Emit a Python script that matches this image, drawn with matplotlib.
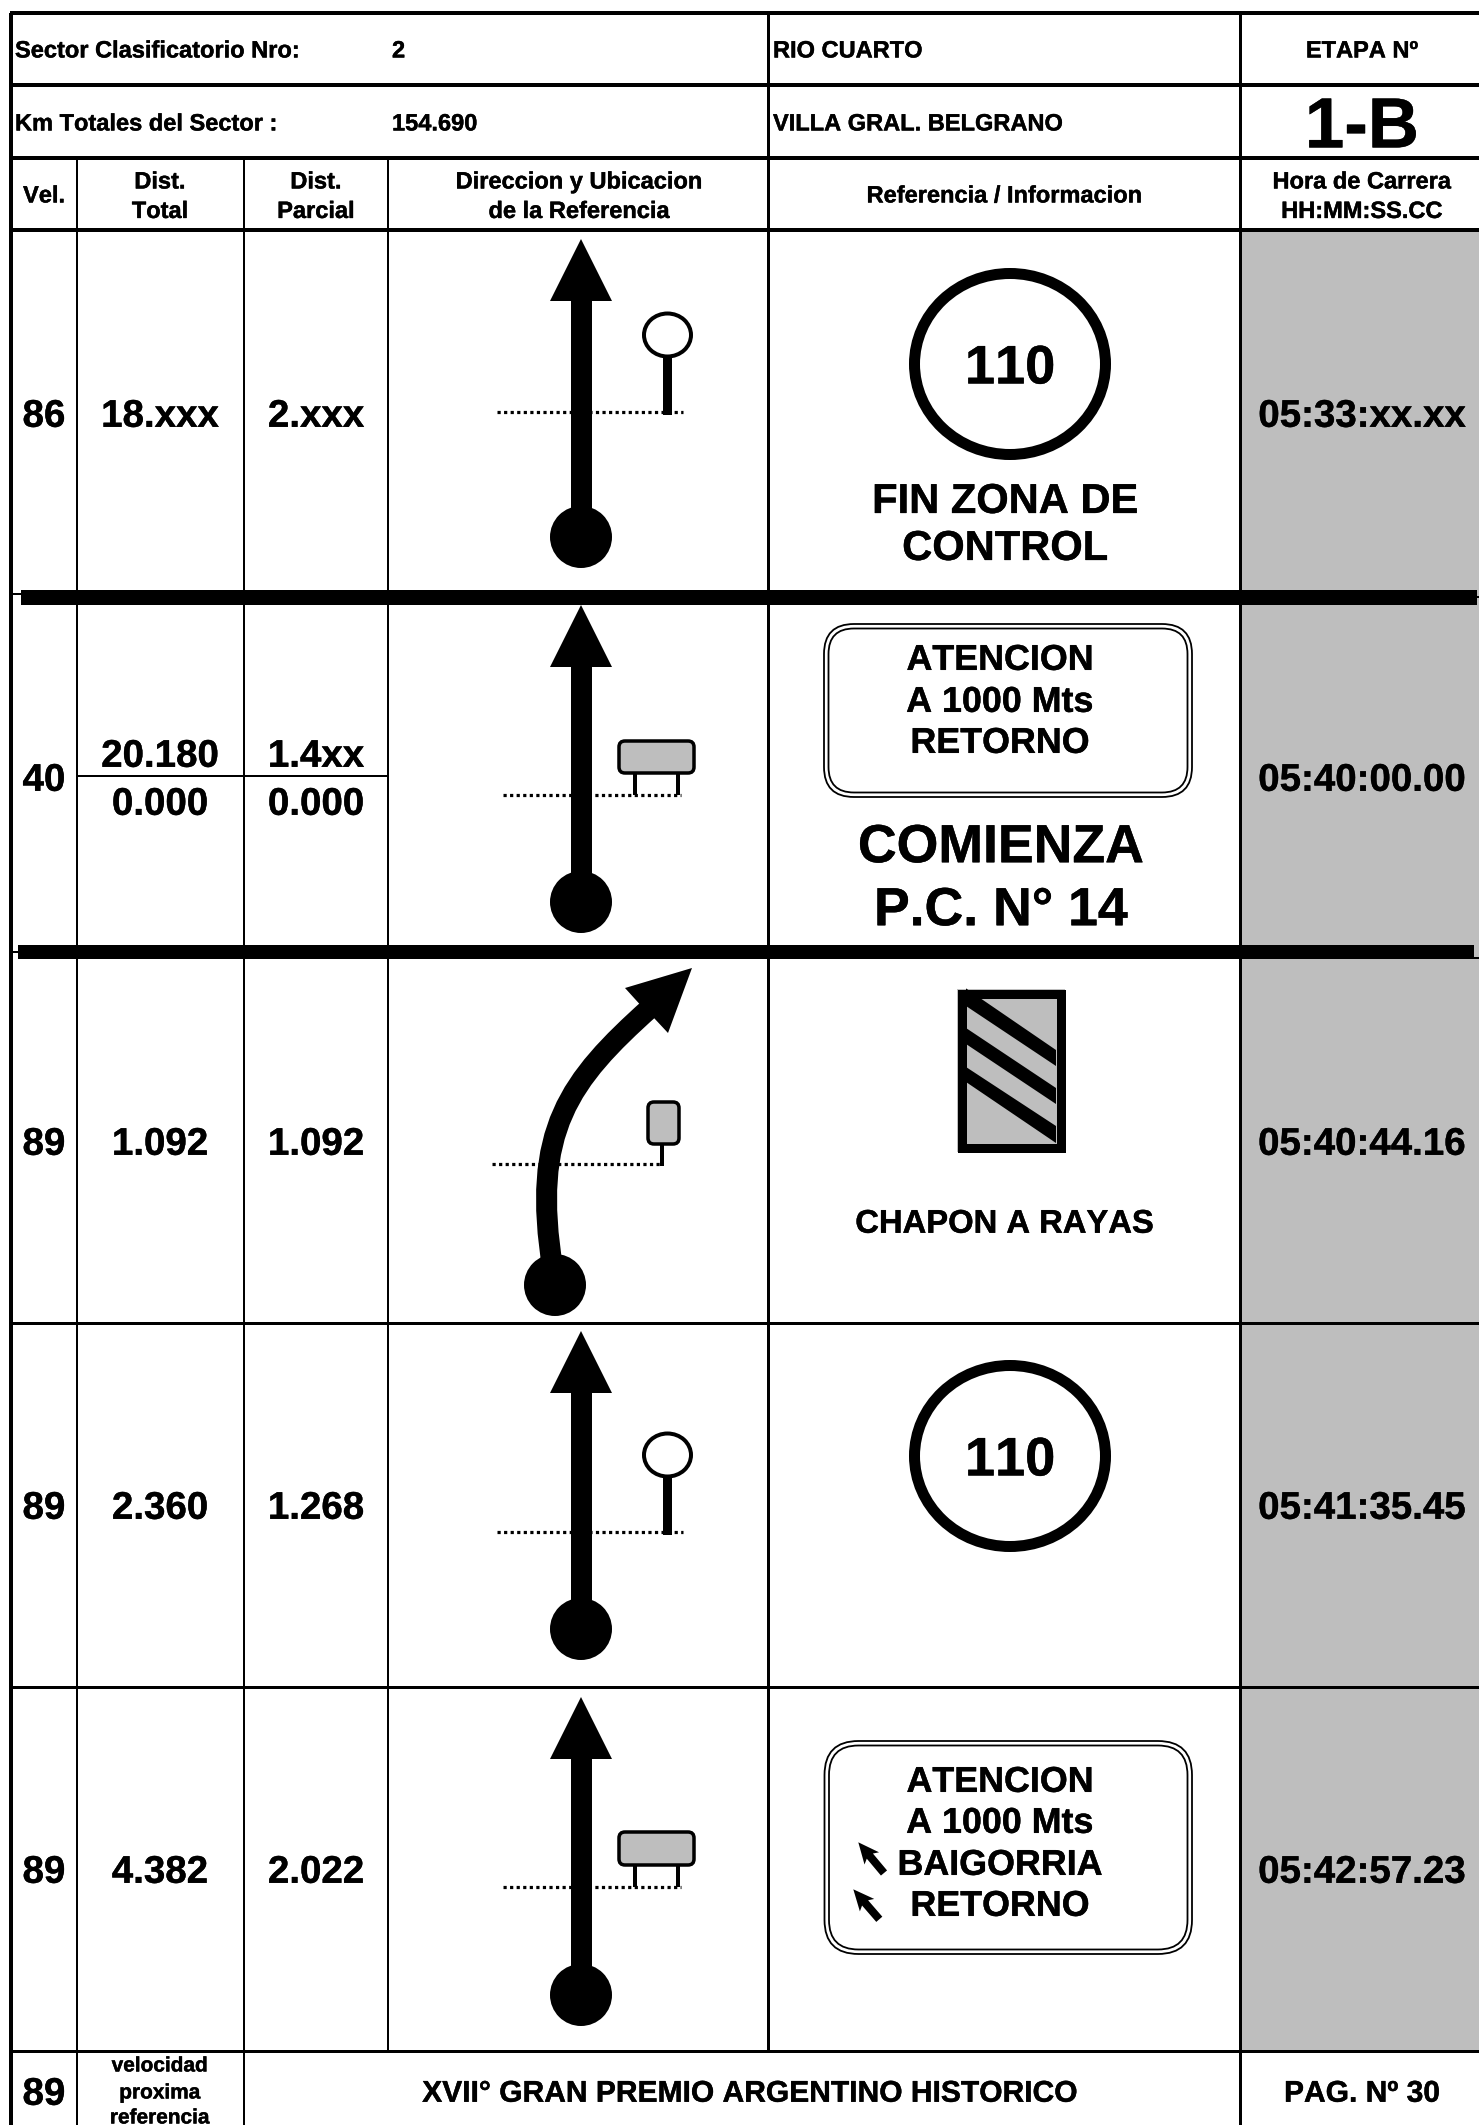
import matplotlib
matplotlib.use("Agg")
import matplotlib.pyplot as plt
import matplotlib.patheffects as pe
from matplotlib.patches import Rectangle, Ellipse, Polygon, FancyBboxPatch, PathPatch
from matplotlib.path import Path
import numpy as np

plt.rcParams['font.family'] = ['Liberation Sans', 'DejaVu Sans']
plt.rcParams['text.kerning_factor'] = 6

# ---- content ----
sector_label = "Sector Clasificatorio Nro:"
sector_value = "2"
km_label = "Km Totales del Sector :"
km_value = "154.690"
place_from = "RIO CUARTO"
place_to = "VILLA GRAL. BELGRANO"
etapa_label = "ETAPA Nº"
etapa_value = "1-B"
column_titles = ["Vel.", "Dist.\nTotal", "Dist.\nParcial", "Direccion y Ubicacion\nde la Referencia",
                 "Referencia / Informacion", "Hora de Carrera\nHH:MM:SS.CC"]
velocities = ["86", "40", "89", "89", "89"]
dist_total = ["18.xxx", "20.180", "1.092", "2.360", "4.382"]
dist_partial = ["2.xxx", "1.4xx", "1.092", "1.268", "2.022"]
dist_total_lower = "0.000"
dist_partial_lower = "0.000"
race_times = ["05:33:xx.xx", "05:40:00.00", "05:40:44.16", "05:41:35.45", "05:42:57.23"]
speed_limit = "110"
footer_velocity = "89"
footer_note = ["velocidad", "proxima", "referencia"]
footer_title = "XVII° GRAN PREMIO ARGENTINO HISTORICO"
footer_page = "PAG. Nº 30"

# ---- layout (pixels of the page) ----
W, H = 1479, 2125
col_x = [11, 77, 244, 388, 768, 1240, 1479]
head_y = [13, 85, 158, 230]
row_y = [230, 597, 952, 1323, 1687, 2051]
row_text_y = [413, 777, 1141, 1505, 1869]
foot_bottom = 2125
GRAY = '#BEBEBE'

fig = plt.figure(figsize=(W / 100, H / 100), dpi=100, facecolor='white')
ax = fig.add_axes([0, 0, 1, 1])
ax.set_xlim(0, W)
ax.set_ylim(H, 0)
ax.axis('off')


def px(v):
    return v * 0.72


def txt(x, y, s, size, ha='center', z=8):
    t = ax.text(x, y + 0.358 * size / 0.72, s, fontsize=size, fontweight='bold', ha=ha, va='baseline',
                color='black', zorder=z)
    t.set_path_effects([pe.withStroke(linewidth=0.3, foreground='black')])


def hline(y, x0, x1, w=3.2, z=3):
    ax.add_patch(Rectangle((x0, y - w / 2), x1 - x0, w, fc='black', ec='none', zorder=z))


def vline(x, y0, y1, w=2.8, z=3):
    ax.add_patch(Rectangle((x - w / 2, y0), w, y1 - y0, fc='black', ec='none', zorder=z))


def straight_arrow(cx, tip, base, ball):
    ax.add_patch(Polygon([(cx, tip), (cx - 31, base), (cx + 31, base)], fc='black', ec='none', zorder=5))
    ax.add_patch(Rectangle((cx - 10.5, base - 1), 21, ball - base, fc='black', ec='none', zorder=5))
    ax.add_patch(Ellipse((cx, ball), 62, 62, fc='black', ec='none', zorder=5))


def dotted(y, x0, x1):
    ax.plot([x0, x1], [y, y], color='black', lw=px(3.2), linestyle=(0, (1.0, 1.05)),
            dash_capstyle='butt', zorder=4)


def pin_sign(cx, cy, foot):
    ax.add_patch(Rectangle((cx - 4.5, cy + 20), 9, foot - cy - 20, fc='black', ec='none', zorder=5))
    ax.add_patch(Ellipse((cx, cy), 47, 43, fc='white', ec='black', lw=px(4), zorder=6))


def board(x0, y0, x1, y1, legs, foot, r=6):
    for lx in legs:
        ax.add_patch(Rectangle((lx - 2, y1), 4, foot - y1, fc='black', ec='none', zorder=5))
    ax.add_patch(FancyBboxPatch((x0, y0), x1 - x0, y1 - y0, boxstyle=f"round,pad=0,rounding_size={r}",
                                fc=GRAY, ec='black', lw=px(3.5), zorder=6))


def speed_disc(cx, cy):
    ax.add_patch(Ellipse((cx, cy), 191, 181, fc='white', ec='black', lw=px(11), zorder=5))
    txt(cx, cy, speed_limit, 39)


def double_box(x0, y0, x1, y1, r=30):
    ax.add_patch(FancyBboxPatch((x0, y0), x1 - x0, y1 - y0, boxstyle=f"round,pad=0,rounding_size={r}",
                                fc='white', ec='black', lw=px(1.8), zorder=5))
    g = 4.5
    ax.add_patch(FancyBboxPatch((x0 + g, y0 + g), x1 - x0 - 2 * g, y1 - y0 - 2 * g,
                                boxstyle=f"round,pad=0,rounding_size={r - g}",
                                fc='white', ec='black', lw=px(1.8), zorder=5))


def small_arrow(tip, tail, head_len=21, head_w=19, shaft_w=8):
    tip, tail = np.array(tip, float), np.array(tail, float)
    d = (tail - tip) / np.hypot(*(tail - tip))
    n = np.array([-d[1], d[0]])
    b = tip + d * head_len
    notch = b - d * 3
    pts = [tip, b + n * head_w / 2, notch + n * shaft_w / 2, tail + n * shaft_w / 2,
           tail - n * shaft_w / 2, notch - n * shaft_w / 2, b - n * head_w / 2]
    ax.add_patch(Polygon(pts, fc='black', ec='none', zorder=7))


# grey time column
ax.add_patch(Rectangle((col_x[5], row_y[0]), col_x[6] - col_x[5], row_y[-1] - row_y[0], fc=GRAY, ec='none', zorder=1))

# grid
for y in head_y:
    hline(y, col_x[0] - 1.5, W, w=3.6)
for y in row_y[3:]:
    hline(y, col_x[0], W, w=3)
vline(col_x[0], head_y[0], foot_bottom, w=3.6)
vline(col_x[4], head_y[0], row_y[-1], w=3)
vline(col_x[5], head_y[0], foot_bottom, w=3)
for x in col_x[1:3]:
    vline(x, head_y[2], foot_bottom)
vline(col_x[3], head_y[2], row_y[-1])

# thick section bars and their stubs
ax.add_patch(Rectangle((21, 590), 1456, 15, fc='black', ec='none', zorder=4))
ax.add_patch(Rectangle((18, 945), 1456, 14, fc='black', ec='none', zorder=4))
hline(594, 11, 22, w=2)
hline(597, 1476, W, w=2)
hline(958, 1473, W, w=2)
hline(952, 11, 19, w=2)

# header
HDR = 17
txt(15, 49, sector_label, HDR, ha='left')
txt(392, 49, sector_value, HDR, ha='left')
txt(15, 122, km_label, HDR, ha='left')
txt(392, 122, km_value, HDR, ha='left')
txt(773, 49, place_from, HDR, ha='left')
txt(773, 122, place_to, HDR, ha='left')
txt(1362, 49, etapa_label, 17)
txt(1362, 122, etapa_value, 51)

title_cx = [44, 160, 316, 579, 1004.5, 1362]
for cx, title in zip(title_cx, column_titles):
    parts = title.split("\n")
    if len(parts) == 1:
        txt(cx, 194, parts[0], HDR)
    else:
        txt(cx, 180, parts[0], HDR)
        txt(cx, 209.5, parts[1], HDR)

# body values
BIG = 27.7
for i, y in enumerate(row_text_y):
    txt(44, y, velocities[i], BIG)
    if i == 1:
        txt(160, 753, dist_total[i], BIG)
        txt(316, 753, dist_partial[i], BIG)
        txt(160, 801, dist_total_lower, BIG)
        txt(316, 801, dist_partial_lower, BIG)
    else:
        txt(160, y, dist_total[i], BIG)
        txt(316, y, dist_partial[i], BIG)
    txt(1362, y, race_times[i], BIG)
hline(776, col_x[1], col_x[3], w=2.2)

# direction drawings
straight_arrow(581, 239, 301, 537)
dotted(412, 497, 683)
pin_sign(667.5, 335, 415)

straight_arrow(581, 605, 667, 902)
dotted(795, 503, 681)
board(619, 741, 694, 773, [635, 678], 795)

curve = Path([(553, 1270), (530, 1130), (570, 1080), (650, 1008)],
             [Path.MOVETO, Path.CURVE4, Path.CURVE4, Path.CURVE4])
ax.add_patch(PathPatch(curve, fc='none', ec='black', lw=px(21), capstyle='butt', zorder=5))
ax.add_patch(Polygon([(692, 968), (625, 988), (639.5, 1004), (654, 1018), (668, 1033)], fc='black', ec='none', zorder=5))
ax.add_patch(Ellipse((555, 1285), 62, 62, fc='black', ec='none', zorder=5))
dotted(1164, 492, 662)
board(648, 1102, 679, 1144, [662], 1166)

straight_arrow(581, 1331, 1393, 1629)
dotted(1532, 497, 683)
pin_sign(667.5, 1455, 1535)

straight_arrow(581, 1697, 1759, 1995)
dotted(1887, 503, 681)
board(619, 1832, 694, 1865, [635, 678], 1887)

# reference panels
speed_disc(1010, 364)
txt(1005, 498, "FIN ZONA DE", 30)
txt(1005, 545, "CONTROL", 30)

double_box(824, 624, 1192, 797)
txt(1000, 657, "ATENCION", 25.8)
txt(1000, 699, "A 1000 Mts", 25.8)
txt(1000, 740, "RETORNO", 25.8)
txt(1001, 843, "COMIENZA", 38.6)
txt(1001, 906, "P.C. N° 14", 38.6)

# striped plate
ax.add_patch(Rectangle((957, 989), 108, 163, fc=GRAY, ec='none', zorder=5))
for band in ([(966, 988.4), (966, 1006), (1056, 1066), (1056, 1050)],
             [(966, 1028), (966, 1044), (1056, 1104), (1056, 1088)],
             [(966, 1067), (966, 1082), (1056, 1143), (1056, 1126)]):
    ax.add_patch(Polygon(band, fc='black', ec='none', zorder=6))
ax.add_patch(Rectangle((961.5, 993.5), 99, 154, fc='none', ec='black', lw=px(9), joinstyle='miter', zorder=7))
txt(1004.5, 1221, "CHAPON A RAYAS", 23.6)

speed_disc(1010, 1456)

double_box(824.5, 1741, 1192, 1954, r=34)
txt(1000, 1779, "ATENCION", 25.8)
txt(1000, 1820, "A 1000 Mts", 25.8)
txt(1000, 1862, "BAIGORRIA", 25.8)
txt(1000, 1903, "RETORNO", 25.8)
small_arrow((858.3, 1842.3), (884, 1873))
small_arrow((853.3, 1889.3), (879.3, 1919.3))

# footer
txt(44, 2091, footer_velocity, BIG)
for y, s in zip((2064, 2091, 2116), footer_note):
    txt(160, y, s, 15)
txt(750, 2091, footer_title, 21.6)
txt(1362, 2091, footer_page, 21.6)

fig.savefig("out.png", dpi=100, facecolor='white')
